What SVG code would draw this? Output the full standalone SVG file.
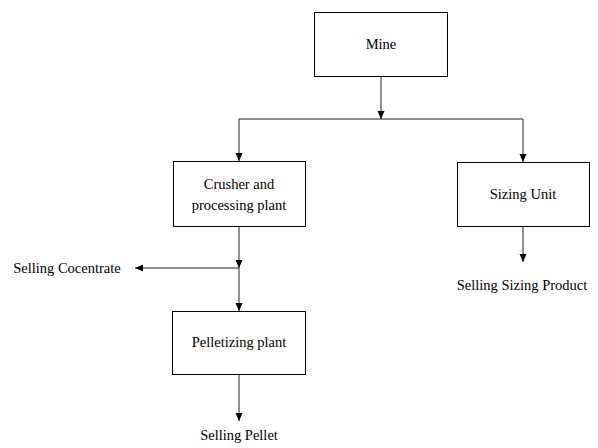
<svg xmlns="http://www.w3.org/2000/svg" width="598" height="448" viewBox="0 0 598 448">
<style>
.box{fill:#fff;stroke:#000;stroke-width:1}
.t{font-family:"Liberation Serif","Times New Roman",serif;font-size:14.5px;fill:#000;text-anchor:middle}
.c{fill:none;stroke:#222;stroke-width:1}
</style>
<defs>
<marker id="ah" markerWidth="8" markerHeight="8" refX="8" refY="4" orient="auto" markerUnits="userSpaceOnUse">
<path d="M0,0.5 L8,4 L0,7.5 Z" fill="#000"/>
</marker>
</defs>
<rect width="598" height="448" fill="#fff"/>
<g id="connectors">
<path class="c" d="M381,76 V119" marker-end="url(#ah)"/>
<path class="c" d="M239,119 H523"/>
<path class="c" d="M239,119 V161" marker-end="url(#ah)"/>
<path class="c" d="M523,119 V162" marker-end="url(#ah)"/>
<path class="c" d="M239,226 V268" marker-end="url(#ah)"/>
<path class="c" d="M239,268 H135" marker-end="url(#ah)"/>
<path class="c" d="M239,268 V311" marker-end="url(#ah)"/>
<path class="c" d="M239,374 V421" marker-end="url(#ah)"/>
<path class="c" d="M523,226 V262" marker-end="url(#ah)"/>
</g>
<g id="mine">
<rect class="box" x="314.5" y="12.5" width="133" height="64"/>
<text class="t" x="381" y="49">Mine</text>
</g>
<g id="crusher">
<rect class="box" x="173.5" y="161.5" width="132" height="65"/>
<text class="t" x="239" y="189">Crusher and</text>
<text class="t" x="239" y="210">processing plant</text>
</g>
<g id="sizing">
<rect class="box" x="457.5" y="162.5" width="132" height="64"/>
<text class="t" x="523" y="199">Sizing Unit</text>
</g>
<g id="pelletizing">
<rect class="box" x="172.5" y="311.5" width="133" height="63"/>
<text class="t" x="239" y="347">Pelletizing plant</text>
</g>
<g id="selling-concentrate">
<text class="t" x="67" y="273">Selling Cocentrate</text>
</g>
<g id="selling-sizing">
<text class="t" x="522" y="290">Selling Sizing Product</text>
</g>
<g id="selling-pellet">
<text class="t" x="239" y="440">Selling Pellet</text>
</g>
</svg>
